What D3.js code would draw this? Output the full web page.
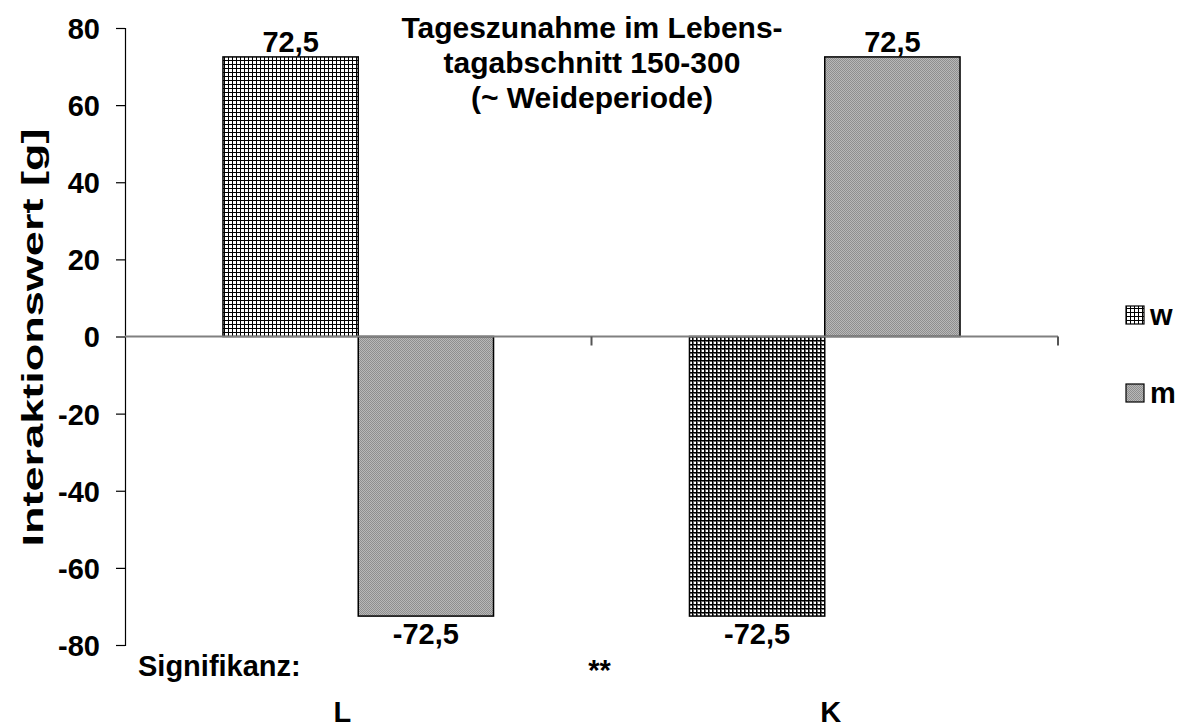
<!DOCTYPE html>
<html>
<head>
<meta charset="utf-8">
<script src="https://cdn.jsdelivr.net/npm/d3@7"></script>
<style>
  html, body { margin: 0; padding: 0; background: #fff; }
  svg { display: block; }
  text { font-family: "Liberation Sans", Arial, sans-serif; font-weight: bold; fill: #000; }
</style>
</head>
<body>
<svg id="chart" width="1184" height="727"></svg>
<script>
// Interaction values per lifespan category
const categories = ["L", "K"];
const seriesNames = ["w", "m"];
const valuesW = [72.5, -72.5];
const valuesM = [-72.5, 72.5];
const yTicks = [80, 60, 40, 20, 0, -20, -40, -60, -80];
const valueLabels = ["72,5", "-72,5", "-72,5", "72,5"]; // w(L), m(L), w(K), m(K)
const titleLines = ["Tageszunahme im Lebens-", "tagabschnitt 150-300", "(~ Weideperiode)"];
const significance = ["**"];

const svg = d3.select("#chart");
const defs = svg.append("defs");

// hatch: white cells with thin black grid
const pW = defs.append("pattern").attr("id", "patW").attr("patternUnits", "userSpaceOnUse")
  .attr("width", 4).attr("height", 4);
pW.append("rect").attr("width", 4).attr("height", 4).attr("fill", "#fff");
pW.append("rect").attr("x", 0).attr("y", 0).attr("width", 4).attr("height", 1).attr("fill", "#000");
pW.append("rect").attr("x", 0).attr("y", 0).attr("width", 1).attr("height", 4).attr("fill", "#000");

// denser variant of the same hatch
const pW2 = defs.append("pattern").attr("id", "patW2").attr("patternUnits", "userSpaceOnUse")
  .attr("width", 4).attr("height", 4);
pW2.append("rect").attr("width", 4).attr("height", 4).attr("fill", "#fff");
pW2.append("rect").attr("x", 0).attr("y", 0).attr("width", 4).attr("height", 2).attr("fill", "#6a6a6a");
pW2.append("rect").attr("x", 0).attr("y", 0).attr("width", 2).attr("height", 4).attr("fill", "#6a6a6a");
pW2.append("rect").attr("x", 0).attr("y", 0).attr("width", 4).attr("height", 1).attr("fill", "#000");
pW2.append("rect").attr("x", 0).attr("y", 0).attr("width", 1).attr("height", 4).attr("fill", "#000");

// fine grey dither
const pM = defs.append("pattern").attr("id", "patM").attr("patternUnits", "userSpaceOnUse")
  .attr("width", 2).attr("height", 2);
pM.append("rect").attr("width", 2).attr("height", 2).attr("fill", "#b8b8b8");
pM.append("rect").attr("x", 0).attr("y", 0).attr("width", 1).attr("height", 1).attr("fill", "#8e8e8e");
pM.append("rect").attr("x", 1).attr("y", 1).attr("width", 1).attr("height", 1).attr("fill", "#8e8e8e");

const plot = { left: 125, right: 1058, top: 28, bottom: 645 };

const y = d3.scaleLinear().domain([-80, 80]).range([plot.bottom, plot.top]);
const x = d3.scaleBand().domain(categories).range([plot.left, plot.right]).paddingInner(0).paddingOuter(0);
const bandPad = 0.21;
const xs = d3.scaleBand().domain(seriesNames)
  .range([x.bandwidth() * bandPad, x.bandwidth() * (1 - bandPad)]);

const fs = 29;

// bars
const bars = [];
categories.forEach((c, i) => {
  bars.push({ cat: c, s: "w", v: valuesW[i], fill: i === 0 ? "url(#patW)" : "url(#patW2)", label: valueLabels[i * 2] });
  bars.push({ cat: c, s: "m", v: valuesM[i], fill: "url(#patM)", label: valueLabels[i * 2 + 1] });
});

svg.append("g").selectAll("rect").data(bars).join("rect")
  .attr("x", d => x(d.cat) + xs(d.s))
  .attr("width", xs.bandwidth())
  .attr("y", d => y(Math.max(0, d.v)))
  .attr("height", d => Math.abs(y(d.v) - y(0)))
  .attr("fill", d => d.fill)
  .attr("stroke", "#000").attr("stroke-width", 1.5);

svg.append("g").selectAll("text").data(bars).join("text")
  .attr("x", d => x(d.cat) + xs(d.s) + xs.bandwidth() / 2)
  .attr("y", d => d.v >= 0 ? y(d.v) - 5 : y(d.v) + 28)
  .attr("text-anchor", "middle")
  .style("font-size", fs + "px")
  .text(d => d.label);

// y axis
const yAxis = d3.axisLeft(y).tickValues(yTicks).tickSize(9).tickPadding(16).tickFormat(d => String(d));
const gy = svg.append("g").attr("transform", `translate(${plot.left},0)`).call(yAxis);
gy.select(".domain").attr("stroke", "#000").attr("stroke-width", 1.2);
gy.selectAll(".tick line").attr("stroke", "#000").attr("stroke-width", 1.2);
gy.selectAll(".tick text").style("font-size", fs + "px").style("font-family", "Liberation Sans, Arial, sans-serif")
  .attr("font-weight", "bold").attr("dy", "0.36em");

// zero line with category ticks
const gx = svg.append("g").attr("transform", `translate(0,${y(0)})`);
gx.append("line").attr("x1", plot.left).attr("x2", plot.right).attr("y1", 0).attr("y2", 0)
  .attr("stroke", "#808080").attr("stroke-width", 2);
const tickXs = categories.map(c => x(c)).concat([plot.right]);
gx.selectAll("line.ct").data(tickXs.slice(1)).join("line").attr("class", "ct")
  .attr("x1", d => d).attr("x2", d => d).attr("y1", 0).attr("y2", 9)
  .attr("stroke", "#555").attr("stroke-width", 2);

// category labels
svg.append("g").selectAll("text").data(categories).join("text")
  .attr("x", (c, i) => x(c) + x.bandwidth() / 2 + (i === 0 ? -16 : 6))
  .attr("y", 722)
  .attr("text-anchor", "middle")
  .style("font-size", fs + "px")
  .text(c => c);

// significance row
svg.append("text").attr("x", 138).attr("y", 676).style("font-size", fs + "px").text("Signifikanz:");
svg.append("text").attr("x", x.range()[0] + x.bandwidth() + 8).attr("y", 680)
  .attr("text-anchor", "middle").style("font-size", fs + "px").text(significance[0]);

// title
svg.append("g").selectAll("text").data(titleLines).join("text")
  .attr("x", 592).attr("y", (d, i) => 38 + i * 35)
  .attr("text-anchor", "middle")
  .style("font-size", "30px")
  .text(d => d);

// y axis title, stretched along its run
const yTitle = svg.append("text")
  .attr("text-anchor", "middle")
  .style("font-size", "29px")
  .text("Interaktionswert [g]");
const natural = yTitle.node().getComputedTextLength();
const stretch = 418 / natural;
yTitle.attr("transform", `translate(43,${y(0) + 1}) rotate(-90) scale(${stretch},1)`);

// legend
const legend = svg.append("g").attr("transform", "translate(1126,0)");
const legFill = { w: "url(#patW)", m: "url(#patM)" };
const legY = { w: 306, m: 384 };
seriesNames.forEach(s => {
  legend.append("rect").attr("x", 0).attr("y", legY[s]).attr("width", 18).attr("height", 18)
    .attr("fill", legFill[s]).attr("stroke", "#000").attr("stroke-width", 1.2);
  legend.append("text").attr("x", 24).attr("y", legY[s] + 19).style("font-size", fs + "px").text(s);
});
</script>
</body>
</html>
